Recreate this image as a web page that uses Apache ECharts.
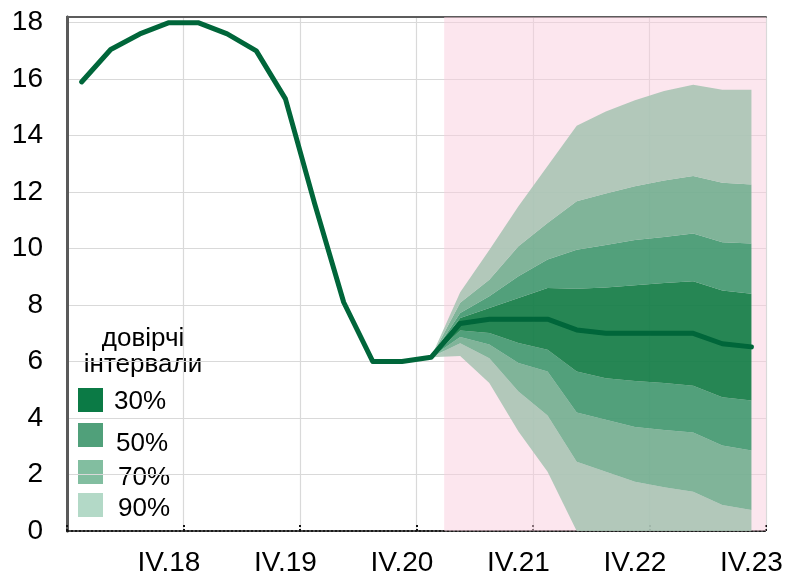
<!DOCTYPE html>
<html>
<head>
<meta charset="utf-8">
<script src="https://cdn.jsdelivr.net/npm/echarts@6/dist/echarts.min.js"></script>
<style>
html,body{margin:0;padding:0;background:#fff;}
#chart{width:789px;height:577px;}
</style>
</head>
<body>
<div id="chart"></div>
<script>
// ---- data ----
const quarters = ['I.18','II.18','III.18','IV.18','I.19','II.19','III.19','IV.19',
                  'I.20','II.20','III.20','IV.20','I.21','II.21','III.21','IV.21',
                  'I.22','II.22','III.22','IV.22','I.23','II.23','III.23','IV.23'];
const lineValues = [15.9, 17.05, 17.6, 18.0, 18.0, 17.6, 17.0, 15.3, 11.6, 8.1, 6.0, 6.0,
                    6.15, 7.35, 7.5, 7.5, 7.5, 7.12, 7.0, 7.0, 7.0, 7.0, 6.63, 6.52];
const N = null;
const lo90 = [N,N,N,N,N,N,N,N,N,N,N,N, 6.15, 6.2, 5.24, 3.52, 2.1, 0, 0, 0, 0, 0, 0, 0];
const lo70 = [N,N,N,N,N,N,N,N,N,N,N,N, 6.15, 6.65, 6.12, 4.94, 4.09, 2.45, 2.1, 1.74, 1.55, 1.39, 0.92, 0.74];
const lo50 = [N,N,N,N,N,N,N,N,N,N,N,N, 6.15, 6.87, 6.6, 5.95, 5.65, 4.2, 3.94, 3.68, 3.58, 3.49, 3.03, 2.85];
const lo30 = [N,N,N,N,N,N,N,N,N,N,N,N, 6.15, 7.1, 7.01, 6.66, 6.42, 5.65, 5.41, 5.31, 5.24, 5.14, 4.74, 4.62];
const hi30 = [N,N,N,N,N,N,N,N,N,N,N,N, 6.15, 7.54, 7.9, 8.25, 8.6, 8.58, 8.62, 8.7, 8.78, 8.84, 8.52, 8.4];
const hi50 = [N,N,N,N,N,N,N,N,N,N,N,N, 6.15, 7.72, 8.31, 9.02, 9.61, 9.96, 10.13, 10.3, 10.41, 10.53, 10.22, 10.18];
const hi70 = [N,N,N,N,N,N,N,N,N,N,N,N, 6.15, 8.08, 8.9, 10.08, 10.91, 11.68, 11.95, 12.21, 12.41, 12.57, 12.33, 12.27];
const hi90 = [N,N,N,N,N,N,N,N,N,N,N,N, 6.15, 8.45, 9.95, 11.5, 12.92, 14.35, 14.85, 15.25, 15.58, 15.8, 15.62, 15.62];
const legendTitle = ['довірчі', 'інтервали'];
const legendLabels = ['30%', '50%', '70%', '90%'];
const forecastStart = 12.95; // boundary on the quarter scale (0..24)
const yMin = 0, yMax = 18.2, yStep = 2;

// ---- styles ----
const FONT = '"Liberation Sans", Arial, sans-serif';
const bandColors = {
  b90: 'rgba(165,195,178,0.85)',
  b70: 'rgba(106,171,139,0.85)',
  b50: 'rgba(52,148,103,0.85)',
  b30: 'rgba(0,118,57,0.85)'
};
const legendColors = ['#0b7a45', '#50a07a', '#82bea0', '#b3d9c7'];

function diff(a, b) { return a.map((v, i) => (v == null || b[i] == null) ? null : +(v - b[i]).toFixed(4)); }

function band(name, data, color) {
  return {
    name: name, type: 'line', xAxisIndex: 1, yAxisIndex: 0, stack: 'fan',
    data: data, symbol: 'none', silent: true,
    lineStyle: { width: 0, opacity: 0 },
    areaStyle: color ? { color: color, opacity: 1 } : { opacity: 0 },
    emphasis: { disabled: true }, z: 3
  };
}

const chart = echarts.init(document.getElementById('chart'), null, { renderer: 'canvas' });

const legendGraphics = [];
legendGraphics.push({ type: 'text', style: { text: legendTitle[0], x: 143, y: 339, font: '26px ' + FONT, fill: '#000', textAlign: 'center', textVerticalAlign: 'middle', align: 'center', verticalAlign: 'middle' } });
legendGraphics.push({ type: 'text', style: { text: legendTitle[1], x: 143, y: 365, font: '26px ' + FONT, fill: '#000', textAlign: 'center', textVerticalAlign: 'middle', align: 'center', verticalAlign: 'middle' } });
const sqY = [388, 423, 460, 493];
const txY = [402, 444, 478, 509];
const txX = [114, 116, 118, 118];
legendLabels.forEach((lab, i) => {
  legendGraphics.push({ type: 'rect', shape: { x: 78, y: sqY[i], width: 25, height: 24 }, style: { fill: legendColors[i] } });
  legendGraphics.push({ type: 'text', style: { text: lab, x: txX[i], y: txY[i], font: '26px ' + FONT, fill: '#000', textAlign: 'left', textVerticalAlign: 'middle', align: 'left', verticalAlign: 'middle' } });
});

const option = {
  animation: false,
  grid: { left: 67, right: 23, top: 17, bottom: 46, containLabel: false },
  xAxis: [
    { // tick / grid scale
      type: 'value', min: 0, max: 24, interval: 4, position: 'bottom',
      axisLine: { show: true, lineStyle: { color: '#1a1a1a', width: 2, type: 'dotted' } },
      axisTick: { show: true, inside: true, length: 6, lineStyle: { color: '#111', width: 2, type: 'dotted' } },
      axisLabel: { show: false },
      splitLine: { show: true, lineStyle: { color: '#d9d9d9', width: 1.2 } }
    },
    { // category scale for data and labels
      type: 'category', data: quarters, boundaryGap: true, position: 'bottom',
      axisLine: { show: false }, axisTick: { show: false }, splitLine: { show: false },
      axisLabel: {
        show: true, interval: (idx) => idx % 4 === 3, margin: 18,
        fontSize: 28, fontFamily: FONT, color: '#000'
      }
    },
    { // top frame
      type: 'value', min: 0, max: 24, position: 'top',
      axisLine: { show: true, lineStyle: { color: '#5c5c5c', width: 2 } },
      axisTick: { show: false }, axisLabel: { show: false }, splitLine: { show: false }
    }
  ],
  yAxis: [
    {
      type: 'value', min: yMin, max: yMax, interval: yStep, position: 'left',
      axisLine: { show: true, lineStyle: { color: '#0f2a1b', width: 2.5 } },
      axisTick: { show: false },
      axisLabel: { showMaxLabel: false, margin: 24, fontSize: 28, fontFamily: FONT, color: '#000', padding: [4, 0, 0, 0] },
      splitLine: { show: true, lineStyle: { color: '#d9d9d9', width: 1.2 } }
    },
    {
      type: 'value', min: yMin, max: yMax, position: 'right',
      axisLine: { show: true, lineStyle: { color: '#5a5a5a', width: 3 } },
      axisTick: { show: false }, axisLabel: { show: false }, splitLine: { show: false }
    }
  ],
  graphic: { elements: legendGraphics },
  series: [
    {
      name: 'forecast', type: 'line', xAxisIndex: 0, yAxisIndex: 0, data: [], silent: true, z: 1,
      markArea: {
        silent: true,
        itemStyle: { color: 'rgba(249,205,221,0.5)' },
        data: [[{ xAxis: forecastStart }, { xAxis: 24 }]]
      }
    },
    band('base', lo90, null),
    band('90lo', diff(lo70, lo90), bandColors.b90),
    band('70lo', diff(lo50, lo70), bandColors.b70),
    band('50lo', diff(lo30, lo50), bandColors.b50),
    band('30', diff(hi30, lo30), bandColors.b30),
    band('50hi', diff(hi50, hi30), bandColors.b50),
    band('70hi', diff(hi70, hi50), bandColors.b70),
    band('90hi', diff(hi90, hi70), bandColors.b90),
    {
      name: 'line', type: 'line', xAxisIndex: 1, yAxisIndex: 0, data: lineValues,
      symbol: 'none', silent: true, z: 5,
      lineStyle: { color: '#00663a', width: 5, cap: 'round', join: 'round' }
    }
  ]
};
chart.setOption(option);
</script>
</body>
</html>
